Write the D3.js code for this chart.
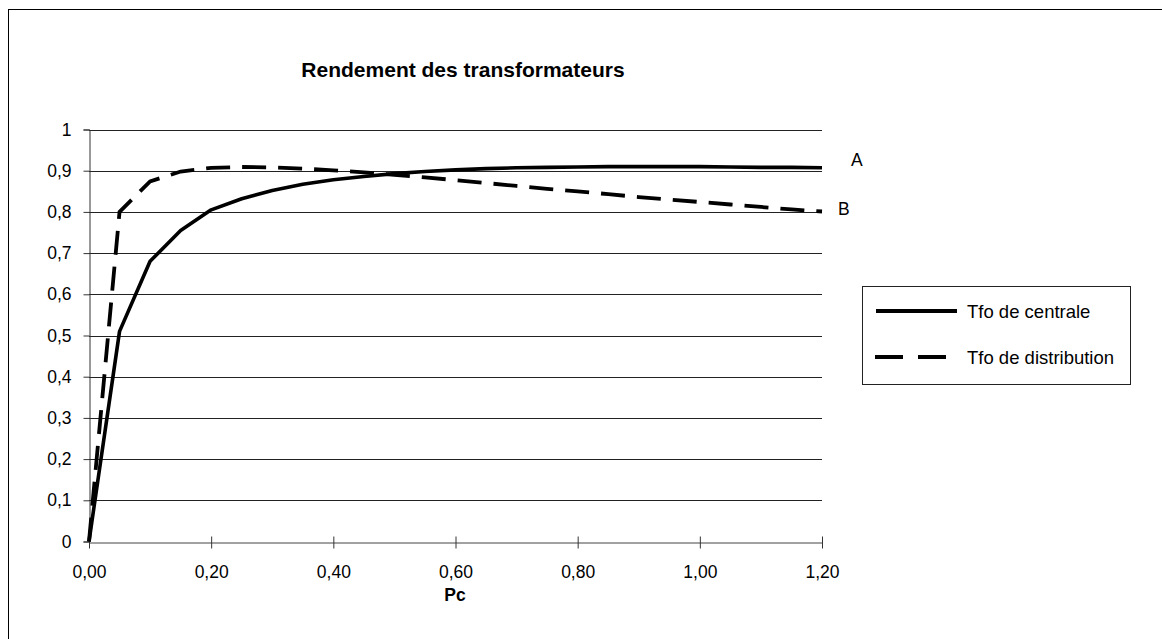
<!DOCTYPE html>
<html>
<head>
<meta charset="utf-8">
<script src="https://cdn.jsdelivr.net/npm/d3@7"></script>
<style>
  html, body { margin: 0; padding: 0; background: #fff; }
  svg { display: block; }
  text { font-family: "Liberation Sans", Arial, sans-serif; fill: #000; }
</style>
</head>
<body>
<svg id="chart" width="1162" height="639"></svg>
<script>
// Load factor Pc
const pc = [0.00, 0.05, 0.10, 0.15, 0.20, 0.25, 0.30, 0.35, 0.40, 0.45, 0.50, 0.55, 0.60,
            0.65, 0.70, 0.75, 0.80, 0.85, 0.90, 0.95, 1.00, 1.05, 1.10, 1.15, 1.20];

// Efficiency of a power-station transformer (curve A)
const rendementCentrale = [0, 0.51, 0.68, 0.755, 0.805, 0.832, 0.852, 0.867, 0.878, 0.886, 0.893, 0.898, 0.902,
                           0.905, 0.907, 0.908, 0.909, 0.910, 0.910, 0.910, 0.910, 0.909, 0.908, 0.908, 0.907];

// Efficiency of a distribution transformer (curve B)
const rendementDistribution = [0, 0.80, 0.874, 0.898, 0.907, 0.909, 0.908, 0.905, 0.901, 0.896, 0.890, 0.884, 0.877,
                               0.870, 0.863, 0.856, 0.850, 0.843, 0.836, 0.830, 0.824, 0.818, 0.812, 0.806, 0.801];

const seriesNames = ["Tfo de centrale", "Tfo de distribution"];
const curveTags = ["A", "B"];

const xTicks = [0, 0.2, 0.4, 0.6, 0.8, 1.0, 1.2];
const xTickLabels = ["0,00", "0,20", "0,40", "0,60", "0,80", "1,00", "1,20"];
const yTicks = [0, 0.1, 0.2, 0.3, 0.4, 0.5, 0.6, 0.7, 0.8, 0.9, 1];
const yTickLabels = ["0", "0,1", "0,2", "0,3", "0,4", "0,5", "0,6", "0,7", "0,8", "0,9", "1"];

const titleText = "Rendement des transformateurs";
const xTitle = "Pc";

const FONT = "Liberation Sans, Arial, sans-serif";
const LABEL_SIZE = 17.5;
const LEGEND_SIZE = 18.5;

const svg = d3.select("#chart");

// outer chart frame (extends past the page on the right and bottom)
svg.append("rect")
  .attr("x", 8.5).attr("y", 9.5)
  .attr("width", 1170).attr("height", 650)
  .attr("fill", "none").attr("stroke", "#000").attr("stroke-width", 1);

const x = d3.scaleLinear().domain([0, 1.2]).range([89, 822]);
const y = d3.scaleLinear().domain([0, 1]).range([541.5, 129.5]);

// horizontal gridlines
svg.append("g")
  .selectAll("line")
  .data(yTicks.slice(1))
  .join("line")
  .attr("x1", x(0)).attr("x2", x(1.2))
  .attr("y1", d => Math.round(y(d)) + 0.5).attr("y2", d => Math.round(y(d)) + 0.5)
  .attr("stroke", "#222").attr("stroke-width", 1);

// y axis
const yAxis = svg.append("g")
  .attr("transform", `translate(${x(0) + 0.5},0)`)
  .call(d3.axisLeft(y).tickValues(yTicks).tickSize(6).tickPadding(12)
        .tickFormat((d, i) => yTickLabels[i]));
yAxis.select(".domain").attr("stroke", "#333");
yAxis.selectAll(".tick line").attr("stroke", "#333");
yAxis.selectAll("text").attr("font-size", LABEL_SIZE).attr("font-family", FONT);

// x axis with crossing ticks
const xAxis = svg.append("g")
  .attr("transform", `translate(0,${Math.round(y(0)) + 0.5})`)
  .call(d3.axisBottom(x).tickValues(xTicks).tickSizeInner(6).tickSizeOuter(0).tickPadding(17)
        .tickFormat((d, i) => xTickLabels[i]));
xAxis.select(".domain").attr("stroke", "#444");
xAxis.selectAll(".tick line").attr("stroke", "#333").attr("y1", -6).attr("y2", 6);
xAxis.selectAll("text").attr("font-size", LABEL_SIZE).attr("font-family", FONT);

// efficiency curves
const line = d3.line()
  .x((d, i) => x(pc[i]))
  .y(d => y(d));

svg.append("path")
  .datum(rendementCentrale)
  .attr("d", line)
  .attr("fill", "none").attr("stroke", "#000")
  .attr("stroke-width", 3.6).attr("stroke-linejoin", "round");

svg.append("path")
  .datum(rendementDistribution)
  .attr("d", line)
  .attr("fill", "none").attr("stroke", "#000")
  .attr("stroke-width", 3.8).attr("stroke-dasharray", "24,12");

// curve tags at the right end
svg.append("text").attr("x", 851).attr("y", 166)
  .attr("font-size", LABEL_SIZE).text(curveTags[0]);
svg.append("text").attr("x", 838).attr("y", 215)
  .attr("font-size", LABEL_SIZE).text(curveTags[1]);

// title
svg.append("text")
  .attr("x", 463).attr("y", 77)
  .attr("text-anchor", "middle")
  .attr("font-size", 21).attr("font-weight", "bold")
  .text(titleText);

// x axis title
svg.append("text")
  .attr("x", 455).attr("y", 601)
  .attr("text-anchor", "middle")
  .attr("font-size", LABEL_SIZE).attr("font-weight", "bold")
  .text(xTitle);

// legend
const legend = svg.append("g");
legend.append("rect")
  .attr("x", 862.5).attr("y", 286.5)
  .attr("width", 268).attr("height", 98)
  .attr("fill", "#fff").attr("stroke", "#222").attr("stroke-width", 1);

const legendRows = [
  { name: seriesNames[0], y: 311, dash: null },
  { name: seriesNames[1], y: 357, dash: "28,15" }
];
legendRows.forEach(r => {
  const l = legend.append("line")
    .attr("x1", 876).attr("x2", 957)
    .attr("y1", r.y).attr("y2", r.y)
    .attr("stroke", "#000").attr("stroke-width", 4);
  if (r.dash) l.attr("x1", 875).attr("stroke-dasharray", r.dash);
  legend.append("text")
    .attr("x", 967).attr("y", r.y + 7)
    .attr("font-size", LEGEND_SIZE)
    .text(r.name);
});
</script>
</body>
</html>
